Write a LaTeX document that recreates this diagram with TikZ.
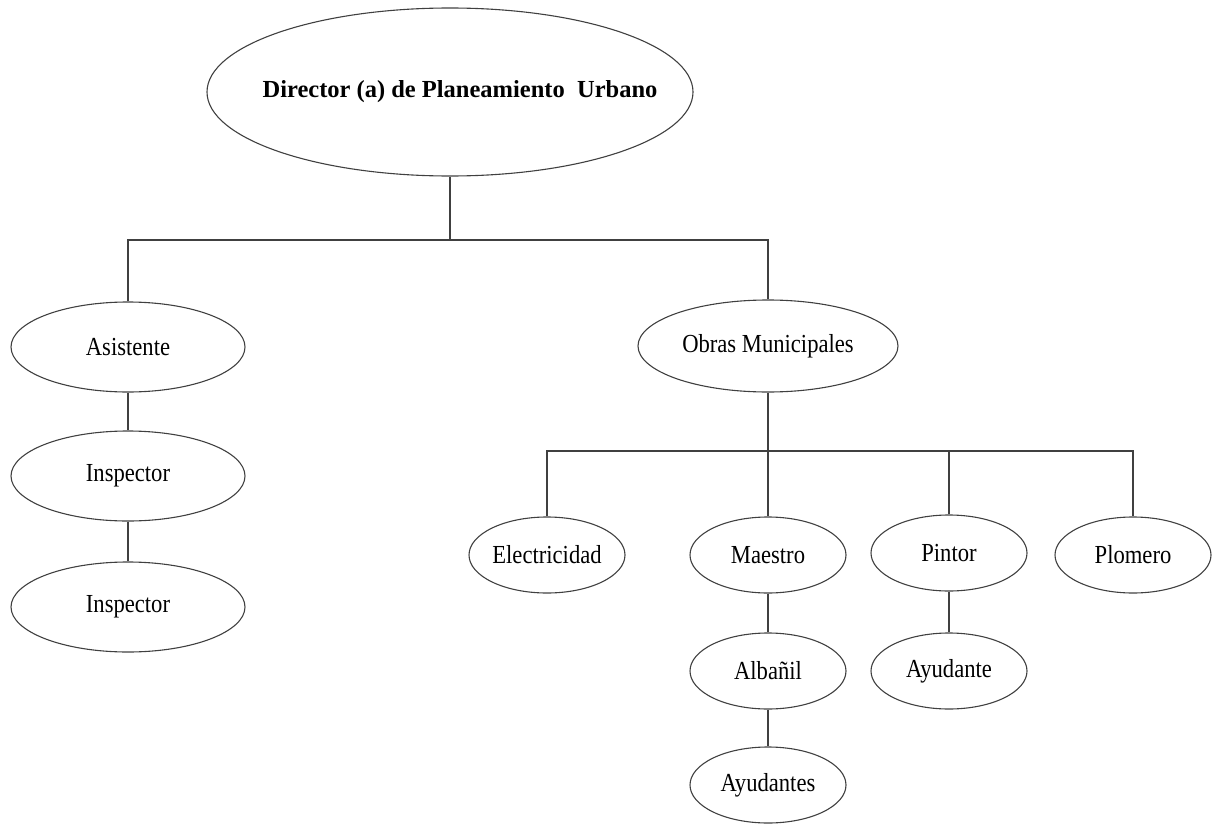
\documentclass[tikz,border=0pt]{standalone}
\usepackage{fontspec}
\setmainfont{Liberation Serif}
\newfontfamily\condfont{Liberation Serif}[FakeStretch=0.87]
\usetikzlibrary{shapes.geometric}
\begin{document}
\begin{tikzpicture}[x=1pt,y=-1pt,
  box/.style={ellipse,draw=black!75,line width=1.1pt,inner sep=0pt,
    font=\condfont\fontsize{26}{30}\selectfont},
  big/.style={box,minimum width=234pt,minimum height=90pt},
  small/.style={box,minimum width=156pt,minimum height=76pt},
  conn/.style={draw=black!75,line width=1.1pt}]
\useasboundingbox (0,0) rectangle (1219,827);
\node[box,minimum width=486pt,minimum height=168pt,font=\bfseries\fontsize{24.5}{28}\selectfont] (dir) at (450,92) {\makebox[0pt]{\hspace{20pt}Director (a) de Planeamiento\ \ Urbano}};
\node[big] (asis) at (128,347) {Asistente};
\node[big] (ins1) at (128,476) {Inspector};
\node[big] (ins2) at (128,607) {Inspector};
\node[big,minimum width=260pt,minimum height=92pt] (obras) at (768,346) {Obras Municipales};
\node[small] (elec) at (547,555) {Electricidad};
\node[small] (maes) at (768,555) {Maestro};
\node[small] (pint) at (949,553) {Pintor};
\node[small] (plom) at (1133,555) {Plomero};
\node[small] (alba) at (768,671) {Albañil};
\node[small] (ayus) at (768,785) {Ayudantes};
\node[small] (ayu) at (949,671) {Ayudante};
\coordinate (b1) at (450,240);
\coordinate (b2) at (768,451);
\draw[conn] (dir.south) -- (b1);
\draw[conn] (asis.north) |- (b1) -| (obras.north);
\draw[conn] (asis.south) -- (ins1.north);
\draw[conn] (ins1.south) -- (ins2.north);
\draw[conn] (obras.south) -- (b2);
\draw[conn] (elec.north) |- (b2) -| (plom.north);
\draw[conn] (b2) -- (maes.north);
\draw[conn] (pint.north) |- (b2);
\draw[conn] (maes.south) -- (alba.north);
\draw[conn] (alba.south) -- (ayus.north);
\draw[conn] (pint.south) -- (ayu.north);
\end{tikzpicture}
\end{document}
